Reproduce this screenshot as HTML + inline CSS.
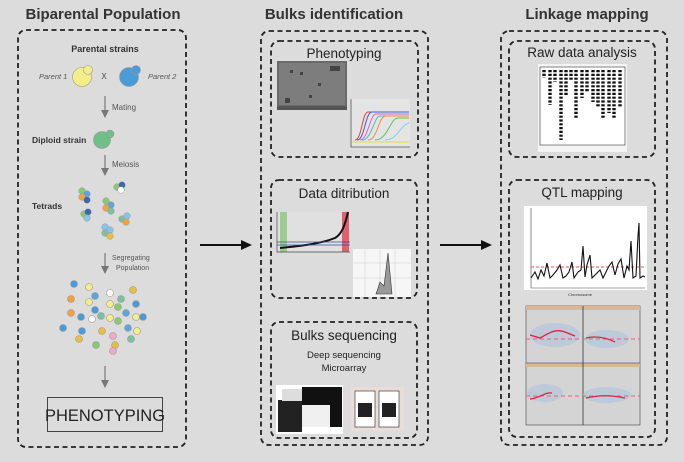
<!DOCTYPE html>
<html><head><meta charset="utf-8"><style>
html,body{margin:0;padding:0;background:#dcdcdc;}
svg{display:block;font-family:"Liberation Sans",sans-serif;}
</style></head><body>
<svg width="684" height="462" viewBox="0 0 684 462" xmlns="http://www.w3.org/2000/svg">
<rect width="684" height="462" fill="#dcdcdc"/>
<defs>
<marker id="ag" markerWidth="8" markerHeight="8" refX="7" refY="4" orient="auto" markerUnits="userSpaceOnUse"><path d="M0,0 L8,4 L0,8 Z" fill="#777"/></marker>
</defs>
<g font-weight="bold" fill="#333" font-size="15" text-anchor="middle">
<text x="103" y="19">Biparental Population</text>
<text x="334" y="19">Bulks identification</text>
<text x="587" y="19">Linkage mapping</text>
</g>
<g fill="none" stroke="#222" stroke-width="1.8" stroke-dasharray="5,3.5">
<rect x="18" y="30" width="168" height="417" rx="8"/>
<rect x="261" y="31" width="167" height="414" rx="8"/>
<rect x="271" y="41" width="147" height="116" rx="8"/>
<rect x="271" y="180" width="146" height="118" rx="8"/>
<rect x="271" y="322" width="146" height="116" rx="8"/>
<rect x="501" y="31" width="166" height="414" rx="8"/>
<rect x="509" y="41" width="146" height="116" rx="8"/>
<rect x="509" y="180" width="146" height="257" rx="8"/>
</g>
<g stroke="#111" stroke-width="2" fill="#111">
<line x1="200" y1="245" x2="244" y2="245"/><path d="M252,245 L241,240 L241,250 Z" stroke="none"/>
<line x1="440" y1="245" x2="484" y2="245"/><path d="M492,245 L481,240 L481,250 Z" stroke="none"/>
</g>
<g fill="#333">
<text x="105" y="52" font-size="9" font-weight="bold" text-anchor="middle">Parental strains</text>
<text x="39" y="79" font-size="7.5" font-style="italic" fill="#555">Parent 1</text>
<text x="104" y="79" font-size="8" text-anchor="middle" fill="#444">X</text>
<text x="148" y="79" font-size="7.5" font-style="italic" fill="#555">Parent 2</text>
<text x="112" y="110" font-size="8" fill="#555">Mating</text>
<text x="32" y="143" font-size="8.5" font-weight="bold">Diploid strain</text>
<text x="112" y="167" font-size="8" fill="#555">Meiosis</text>
<text x="32" y="209" font-size="8.5" font-weight="bold">Tetrads</text>
<text x="112" y="260" font-size="7" fill="#555">Segregating</text>
<text x="116" y="270" font-size="7" fill="#555">Population</text>
</g>
<circle cx="82" cy="77" r="9.5" fill="#f4ee88" stroke="#999" stroke-width=".6"/><circle cx="88" cy="70" r="4.5" fill="#f4ee88" stroke="#999" stroke-width=".6"/>
<circle cx="129" cy="77" r="9.5" fill="#4a9bd8" stroke="#999" stroke-width=".6"/><circle cx="136" cy="70" r="4.5" fill="#4a9bd8" stroke="#999" stroke-width=".6"/>
<circle cx="102" cy="140" r="8.5" fill="#6fc087" stroke="#999" stroke-width=".6"/><circle cx="110" cy="134" r="4" fill="#6fc087" stroke="#999" stroke-width=".6"/>
<g stroke="#777" stroke-width="1.2" marker-end="url(#ag)">
<line x1="105" y1="96" x2="105" y2="117"/>
<line x1="105" y1="155" x2="105" y2="175"/>
<line x1="105" y1="253" x2="105" y2="273"/>
<line x1="105" y1="366" x2="105" y2="387"/>
</g>
<g stroke="#999" stroke-width=".5">
<circle cx="82" cy="191" r="3.3" fill="#8cc870"/><circle cx="87" cy="194" r="3.3" fill="#5ba6dc"/><circle cx="82" cy="197" r="3.3" fill="#f7a040"/><circle cx="87" cy="200" r="3.3" fill="#3a67b0"/>
<circle cx="117" cy="187" r="3.3" fill="#8cc870"/><circle cx="122" cy="185" r="3.3" fill="#3a67b0"/><circle cx="121" cy="190" r="3.3" fill="#ffffff"/>
<circle cx="106" cy="201" r="3.3" fill="#8cc870"/><circle cx="111" cy="205" r="3.3" fill="#5ba6dc"/><circle cx="106" cy="208" r="3.3" fill="#f7a040"/><circle cx="111" cy="211" r="3.3" fill="#7cc0a0"/>
<circle cx="84" cy="214" r="3.3" fill="#8cc870"/><circle cx="88" cy="212" r="3.3" fill="#3a67b0"/><circle cx="87" cy="218" r="3.3" fill="#8ac4e8"/>
<circle cx="122" cy="219" r="3.3" fill="#7cc0a0"/><circle cx="127" cy="216" r="3.3" fill="#8ac4e8"/><circle cx="126" cy="222" r="3.3" fill="#f7a040"/>
<circle cx="105" cy="227" r="3.3" fill="#8ac4e8"/><circle cx="110" cy="230" r="3.3" fill="#8ac4e8"/><circle cx="105" cy="233" r="3.3" fill="#7cc0a0"/><circle cx="110" cy="236" r="3.3" fill="#e8c040"/>
</g>
<g stroke="#999" stroke-width=".6">
<circle cx="74" cy="284" r="3.5" fill="#4a9bd8"/><circle cx="89" cy="287" r="3.5" fill="#f4ee88"/><circle cx="133" cy="290" r="3.5" fill="#e8c040"/><circle cx="110" cy="293" r="3.5" fill="#fff"/><circle cx="95" cy="296" r="3.5" fill="#5ba6dc"/>
<circle cx="71" cy="299" r="3.5" fill="#f7a040"/><circle cx="89" cy="302" r="3.5" fill="#f4ee88"/><circle cx="121" cy="299" r="3.5" fill="#7cc0a0"/><circle cx="136" cy="304" r="3.5" fill="#4a9bd8"/><circle cx="110" cy="304" r="3.5" fill="#f4ee88"/><circle cx="118" cy="307" r="3.5" fill="#8cc870"/>
<circle cx="71" cy="313" r="3.5" fill="#f7a040"/><circle cx="95" cy="310" r="3.5" fill="#4a9bd8"/><circle cx="81" cy="317" r="3.5" fill="#4a9bd8"/><circle cx="101" cy="316" r="3.5" fill="#7cc0a0"/><circle cx="126" cy="313" r="3.5" fill="#5ba6dc"/>
<circle cx="92" cy="319" r="3.5" fill="#fff"/><circle cx="110" cy="318" r="3.5" fill="#f4ee88"/><circle cx="118" cy="321" r="3.5" fill="#8cc870"/><circle cx="136" cy="317" r="3.5" fill="#f4ee88"/><circle cx="143" cy="317" r="3.5" fill="#4a9bd8"/>
<circle cx="63" cy="328" r="3.5" fill="#4a9bd8"/><circle cx="82" cy="331" r="3.5" fill="#4a9bd8"/><circle cx="102" cy="331" r="3.5" fill="#e8c040"/><circle cx="128" cy="328" r="3.5" fill="#5ba6dc"/><circle cx="137" cy="331" r="3.5" fill="#f4ee88"/>
<circle cx="79" cy="339" r="3.5" fill="#e8c040"/><circle cx="113" cy="336" r="3.5" fill="#f4a8c8"/><circle cx="131" cy="339" r="3.5" fill="#7cc0a0"/>
<circle cx="96" cy="345" r="3.5" fill="#8cc870"/><circle cx="115" cy="345" r="3.5" fill="#e8c040"/><circle cx="113" cy="351" r="3.5" fill="#f4a8c8"/>
</g>
<rect x="47.5" y="397.5" width="115" height="34" fill="none" stroke="#444" stroke-width="1"/>
<text x="105" y="421" font-size="16.5" text-anchor="middle" fill="#222">PHENOTYPING</text>
<g fill="#222" text-anchor="middle">
<text x="344" y="58" font-size="13.5">Phenotyping</text>
<text x="344" y="198" font-size="13.5">Data ditribution</text>
<text x="344" y="340" font-size="13.5">Bulks sequencing</text>
<text x="344" y="358" font-size="9.5">Deep sequencing</text>
<text x="344" y="371" font-size="9.5">Microarray</text>
</g>
<rect x="277" y="61" width="70" height="49" fill="#6a6a6a"/>
<rect x="279" y="63" width="66" height="42" fill="#7d7d7d"/>
<g fill="#444"><rect x="290" y="70" width="3" height="3"/><rect x="300" y="72" width="3" height="3"/><rect x="318" y="83" width="3" height="3"/><rect x="330" y="66" width="10" height="5"/><rect x="285" y="98" width="5" height="5"/><rect x="309" y="95" width="3" height="3"/></g>
<rect x="277" y="106" width="70" height="4" fill="#555"/>
<rect x="350" y="99" width="60" height="48" fill="#e4e4e4"/>
<path d="M351,99 V147 H410" stroke="#555" fill="none" stroke-width=".8"/>
<g fill="none" stroke-width="1">
<path d="M355,140 C362,140 362,112 368,112 H409" stroke="#e04040"/>
<path d="M357,140 C365,140 365,112 372,112 H409" stroke="#4060d0"/>
<path d="M360,140 C368,140 370,114 376,114 H409" stroke="#e060c0"/>
<path d="M362,140 C372,140 374,116 380,116 H409" stroke="#40c0c0"/>
<path d="M368,140 C378,140 378,116 386,116 H409" stroke="#f09030"/>
<path d="M375,140 C388,140 390,118 398,118 H409" stroke="#60c060"/>
<path d="M385,140 C398,140 400,125 409,123" stroke="#80d0f0"/>
<path d="M352,142 H409" stroke="#e0e040"/>
</g>
<rect x="277" y="212" width="73" height="40" fill="#e0e0e0"/>
<rect x="280" y="212" width="7" height="40" fill="#9ccc90"/>
<rect x="342" y="212" width="7" height="40" fill="#e06070"/>
<path d="M277,212 V252 H350" stroke="#444" fill="none" stroke-width=".7"/>
<path d="M280,248 C300,246 320,244 335,238 C342,234 345,225 348,212" stroke="#111" stroke-width="2" fill="none"/>
<g stroke="#3050a0" stroke-width=".8"><line x1="277" y1="242" x2="350" y2="242"/><line x1="277" y1="245" x2="350" y2="245"/></g>
<rect x="353" y="249" width="58" height="48" fill="#f6f6f6"/>
<g stroke="#ccc" stroke-width=".5"><line x1="365" y1="249" x2="365" y2="297"/><line x1="380" y1="249" x2="380" y2="297"/><line x1="395" y1="249" x2="395" y2="297"/><line x1="353" y1="263" x2="411" y2="263"/><line x1="353" y1="278" x2="411" y2="278"/></g>
<path d="M376,294 L380,282 L384,286 L388,253 L392,294 Z" fill="#999" stroke="#333" stroke-width=".6"/>
<rect x="276" y="385" width="67" height="49" fill="#fff"/>
<rect x="302" y="387" width="40" height="40" fill="#111"/>
<rect x="302" y="405" width="28" height="22" fill="#f0f0f0"/>
<rect x="278" y="400" width="24" height="32" fill="#222"/>
<rect x="282" y="389" width="20" height="12" fill="#ddd"/>
<rect x="351" y="387" width="53" height="44" fill="#e8ddd8"/>
<rect x="355" y="391" width="20" height="36" fill="#fff" stroke="#555" stroke-width=".8"/>
<rect x="379" y="391" width="20" height="36" fill="#fff" stroke="#555" stroke-width=".8"/>
<rect x="358" y="403" width="14" height="14" fill="#222"/><rect x="382" y="403" width="14" height="14" fill="#222"/>
<g fill="#222" text-anchor="middle">
<text x="582" y="57" font-size="13.5">Raw data analysis</text>
<text x="582" y="197" font-size="13.5">QTL mapping</text>
</g>
<rect x="538" y="64" width="89" height="88" fill="#f4f4f4"/>
<rect x="540" y="67" width="85" height="78" fill="#fff" stroke="#333" stroke-width=".6"/>
<g stroke="#111" stroke-width="3.4" stroke-dasharray="2.2,1.6">
<line x1="544" y1="70" x2="544" y2="78"/><line x1="550" y1="70" x2="550" y2="105"/><line x1="555" y1="70" x2="555" y2="82"/><line x1="561" y1="70" x2="561" y2="140"/><line x1="566" y1="70" x2="566" y2="95"/><line x1="571" y1="70" x2="571" y2="80"/><line x1="576" y1="70" x2="576" y2="118"/><line x1="582" y1="70" x2="582" y2="98"/><line x1="587" y1="70" x2="587" y2="92"/><line x1="593" y1="70" x2="593" y2="102"/><line x1="598" y1="70" x2="598" y2="108"/><line x1="603" y1="70" x2="603" y2="118"/><line x1="609" y1="70" x2="609" y2="113"/><line x1="614" y1="70" x2="614" y2="118"/><line x1="620" y1="70" x2="620" y2="108"/>
</g>
<rect x="524" y="206" width="123" height="84" fill="#fff"/>
<path d="M531,208 V288 H645" stroke="#444" fill="none" stroke-width=".6"/>
<line x1="531" y1="267" x2="645" y2="267" stroke="#e05050" stroke-dasharray="3,2" stroke-width="1"/>
<path d="M531,278 L535,272 L538,279 L541,270 L544,276 L547,263 L550,278 L553,275 L557,270 L560,265 L563,278 L566,276 L569,272 L572,262 L574,278 L578,272 L581,270 L583,246 L585,277 L587,265 L590,255 L592,278 L596,274 L600,270 L603,278 L606,272 L609,266 L612,262 L615,275 L618,264 L621,259 L624,278 L627,266 L629,270 L631,241 L633,278 L636,276 L638,236 L639,223 L640,278 L643,276 L645,277" stroke="#111" stroke-width="1.1" fill="none"/>
<text x="580" y="296" font-size="4" text-anchor="middle" fill="#333">Chromosome</text>
<g>
<rect x="526" y="306" width="114" height="119" fill="#d4d4d4" stroke="#444" stroke-width=".6"/>
<rect x="526" y="306" width="114" height="4" fill="#d8b898"/>
<rect x="526" y="363" width="114" height="4" fill="#d8b898"/>
<line x1="583" y1="306" x2="583" y2="425" stroke="#333" stroke-width=".8"/>
<line x1="526" y1="363" x2="640" y2="363" stroke="#333" stroke-width=".6"/>
<g fill="#b8c8dc" opacity=".8"><ellipse cx="555" cy="335" rx="25" ry="12"/><ellipse cx="607" cy="339" rx="22" ry="9"/><ellipse cx="545" cy="393" rx="18" ry="9"/><ellipse cx="607" cy="395" rx="24" ry="8"/></g>
<g stroke="#f06070" stroke-width="1" stroke-dasharray="4,3" fill="none"><line x1="526" y1="339" x2="640" y2="339"/><line x1="526" y1="396" x2="640" y2="396"/></g>
<g stroke="#e02040" stroke-width="1.3" fill="none"><path d="M530,335 L540,338 C548,334 555,328 565,332 L575,336"/><path d="M586,338 C595,336 605,337 615,342"/><path d="M530,399 C540,398 545,392 552,393"/><path d="M586,398 C600,395 610,395 625,398"/></g>
</g>
</svg>
</body></html>
